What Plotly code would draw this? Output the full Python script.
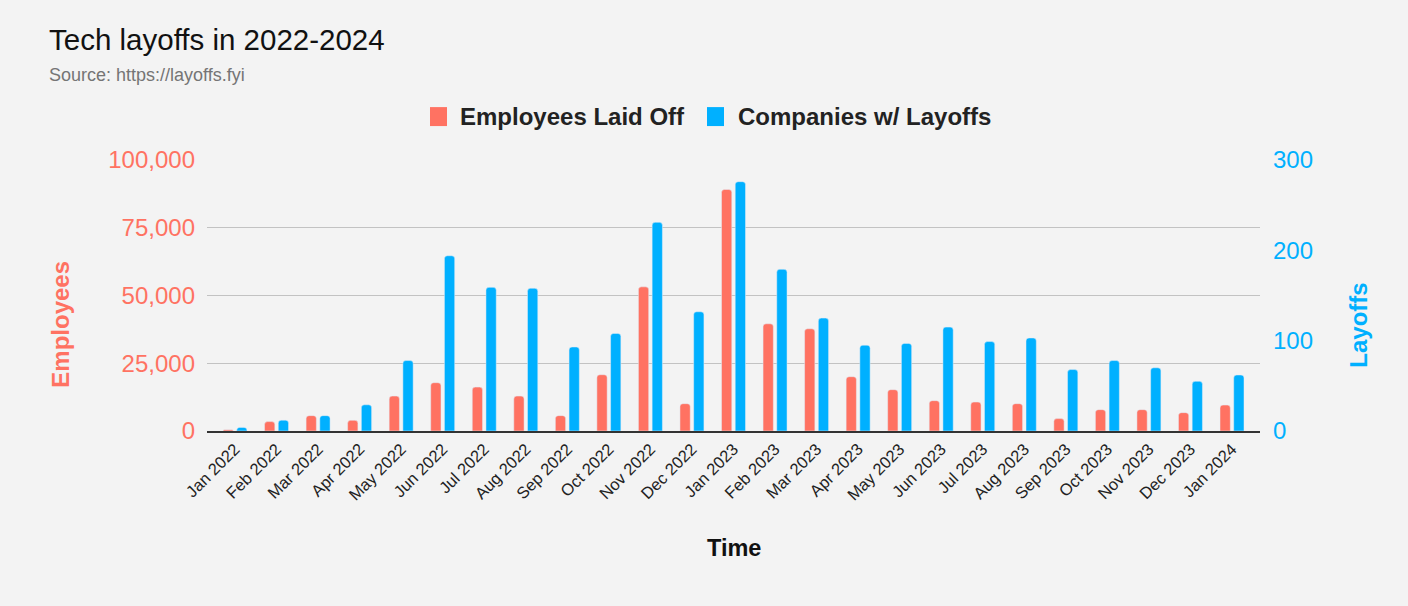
import plotly.graph_objects as go

months = ["Jan 2022", "Feb 2022", "Mar 2022", "Apr 2022", "May 2022", "Jun 2022",
          "Jul 2022", "Aug 2022", "Sep 2022", "Oct 2022", "Nov 2022", "Dec 2022",
          "Jan 2023", "Feb 2023", "Mar 2023", "Apr 2023", "May 2023", "Jun 2023",
          "Jul 2023", "Aug 2023", "Sep 2023", "Oct 2023", "Nov 2023", "Dec 2023",
          "Jan 2024"]
employees_laid_off = [500, 3460, 5670, 3940, 12890, 17830, 16200, 12890, 5670, 20770,
                      53190, 10090, 89130, 39560, 37720, 20040, 15250, 11200, 10680,
                      10090, 4570, 7880, 7880, 6780, 9580]
companies_with_layoffs = [4, 12, 17, 29, 78, 194, 159, 158, 93, 108, 231, 132, 276,
                          179, 125, 95, 97, 115, 99, 103, 68, 78, 70, 55, 62]

emp_ticks = [0, 25000, 50000, 75000, 100000]
lay_ticks = [0, 100, 200, 300]

series_names = ["Employees Laid Off", "Companies w/ Layoffs"]

RED = "#ff7262"
BLUE = "#00b0ff"
FONT = "Liberation Sans"

fig = go.Figure()
fig.add_trace(go.Bar(x=months, y=employees_laid_off, name=series_names[0],
                     marker_color=RED, yaxis="y", offsetgroup="1"))
fig.add_trace(go.Bar(x=months, y=companies_with_layoffs, name=series_names[1],
                     marker_color=BLUE, yaxis="y2", offsetgroup="2"))

# plot area in pixels: x 207..1260, y 160..431.5
L, R, T, B = 207, 1260, 160, 431.5
W, H = R - L, B - T

def px(xp):
    return (xp - L) / W

def py(yp):
    return (B - yp) / H

# custom legend (squares + labels)
legend_items = [(430, 458, RED, series_names[0]), (707, 736, BLUE, series_names[1])]
shapes = []
annotations = []
for sx, tx, col, name in legend_items:
    shapes.append(dict(type="rect", xref="paper", yref="paper",
                       x0=px(sx), x1=px(sx + 17), y0=py(126), y1=py(107),
                       fillcolor=col, line=dict(width=0)))
    annotations.append(dict(text=name, xref="paper", yref="paper", x=px(tx), y=py(116),
                            xanchor="left", yanchor="middle", showarrow=False,
                            font=dict(size=24, color="#222222", family=FONT, weight="bold")))

annotations += [
    dict(text="Tech layoffs in 2022-2024", xref="paper", yref="paper",
         x=px(47), y=py(39), xanchor="left", yanchor="middle", showarrow=False,
         font=dict(size=29.5, color="#111111", family=FONT)),
    dict(text="Source: https://layoffs.fyi", xref="paper", yref="paper",
         x=px(47), y=py(75), xanchor="left", yanchor="middle", showarrow=False,
         font=dict(size=18, color="#757575", family=FONT)),
    dict(text="Employees", xref="paper", yref="paper", x=px(61), y=py(325),
         xanchor="center", yanchor="middle", textangle=-90, showarrow=False,
         font=dict(size=24, color=RED, family=FONT, weight="bold")),
    dict(text="Layoffs", xref="paper", yref="paper", x=px(1359), y=py(326),
         xanchor="center", yanchor="middle", textangle=-90, showarrow=False,
         font=dict(size=24, color=BLUE, family=FONT, weight="bold")),
    dict(text="Time", xref="paper", yref="paper", x=px(734), y=py(549),
         xanchor="center", yanchor="middle", showarrow=False,
         font=dict(size=23.5, color="#111111", family=FONT, weight="bold")),
]

fig.update_layout(
    width=1408, height=606,
    margin=dict(l=L, r=1408 - R, t=T, b=606 - B, pad=0),
    paper_bgcolor="#f3f3f3", plot_bgcolor="#f3f3f3",
    font=dict(family=FONT, color="#222222"),
    barmode="group", bargap=0.34, bargroupgap=0.25, barcornerradius=3,
    showlegend=False,
    xaxis=dict(type="category", range=[-0.674, len(months) - 1 + 0.674],
               tickangle=-45, tickfont=dict(size=16.5, color="#222222"),
               showgrid=False, showline=True, linecolor="#333333", linewidth=2,
               ticks="", zeroline=False),
    yaxis=dict(range=[0, 100000], tickvals=emp_ticks, tickformat=",",
               tickfont=dict(size=24, color=RED), showgrid=True, gridcolor="#c2c2c2",
               gridwidth=1.3, zeroline=False, showline=False, ticks="",
               ticklabelstandoff=11),
    yaxis2=dict(range=[0, 300], tickvals=lay_ticks, overlaying="y", side="right",
                tickfont=dict(size=24, color=BLUE), showgrid=False, zeroline=False,
                showline=False, ticks="", ticklabelstandoff=12),
    shapes=shapes,
    annotations=annotations,
)

fig.write_html("out.html", config={"displayModeBar": False},
               post_script="document.body.style.margin='0';document.body.style.overflow='hidden';")
